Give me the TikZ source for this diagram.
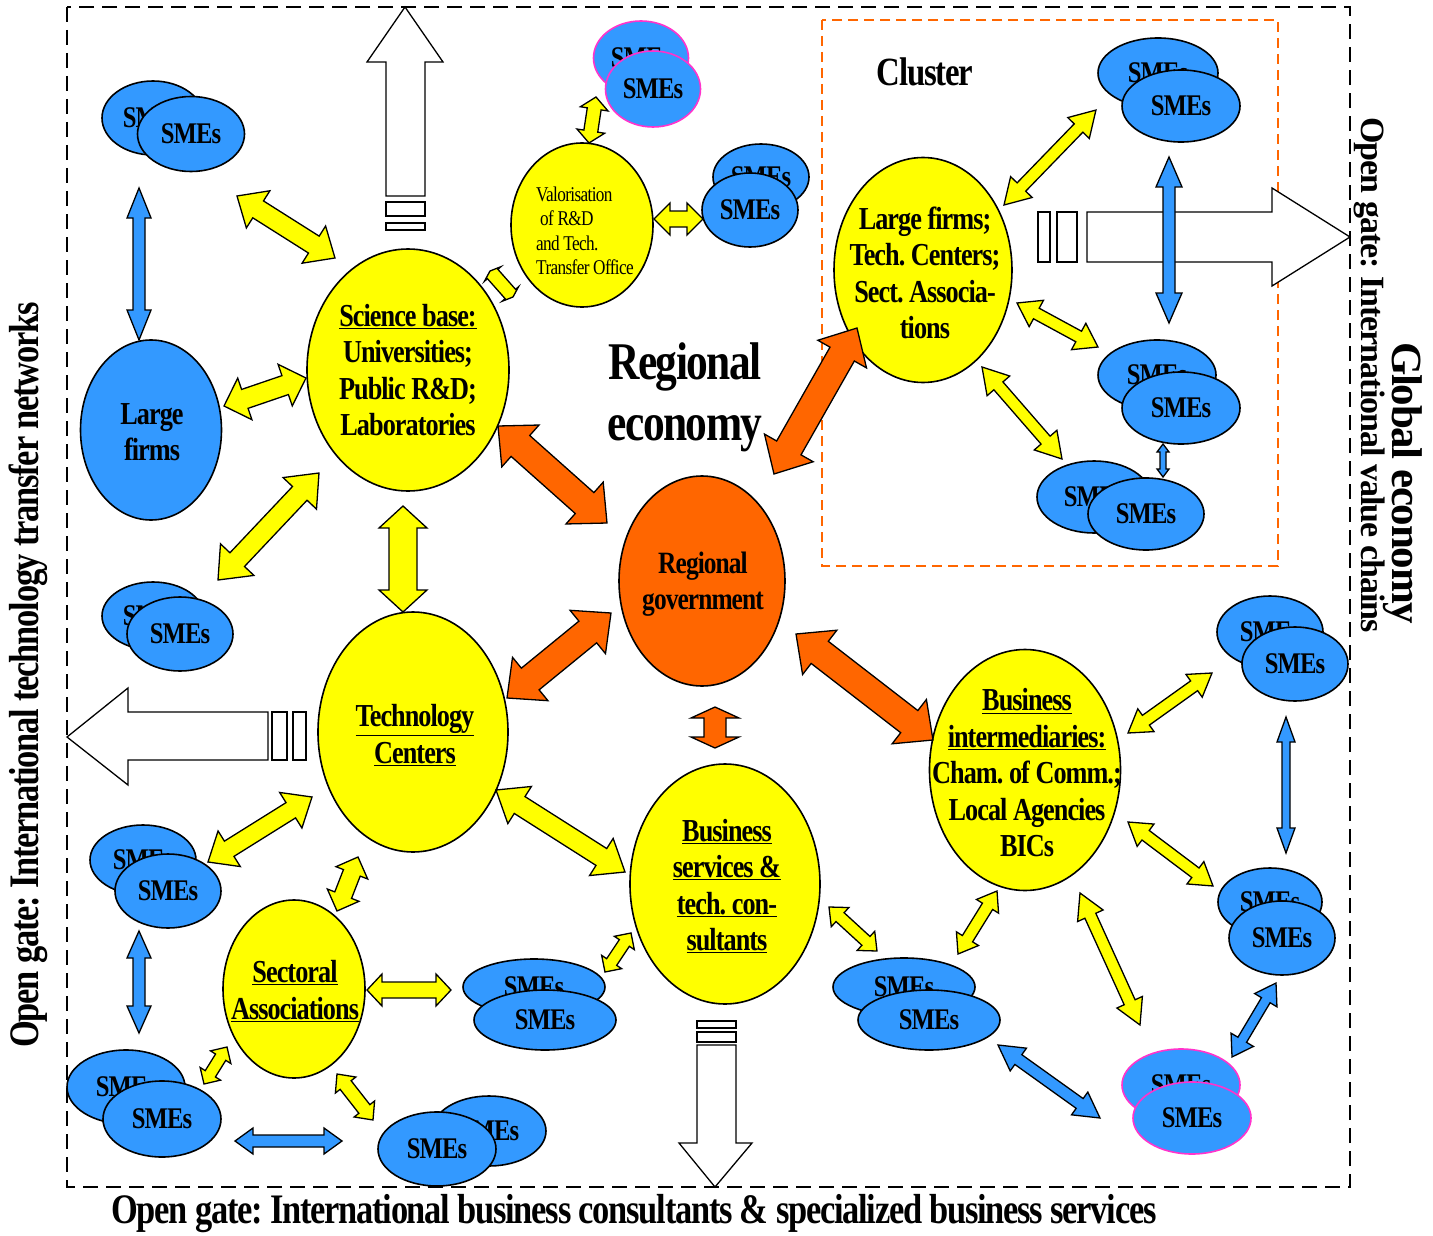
\documentclass[tikz,border=0pt]{standalone}
\usepackage{fontspec}
\setmainfont{Liberation Serif}
\newfontfamily\cf[FakeStretch=0.82,LetterSpace=-3]{Liberation Serif}
\newfontfamily\nf[LetterSpace=-3]{Liberation Serif}
\usetikzlibrary{shapes.geometric,calc}
\definecolor{yel}{HTML}{FFFF00}
\definecolor{smeb}{HTML}{3399FF}
\definecolor{org}{HTML}{FF6600}
\definecolor{pnk}{HTML}{FF33CC}
\newcommand\fs[2]{\fontsize{#1}{#2}\selectfont}
\frenchspacing
\tikzset{
  ell/.style={ellipse, draw=black, line width=1.6pt, inner sep=0pt},
  yelE/.style={ell, fill=yel},
  bluE/.style={ell, fill=smeb},
  orgE/.style={ell, fill=org},
  smeT/.style={font=\cf\bfseries\fs{30}{30}},
  lab/.style={align=center, inner sep=0pt, font=\cf\bfseries\fs{32}{36.5}},
  yA/.style={fill=yel, draw=black, line width=1.3pt},
  bA/.style={fill=smeb, draw=black, line width=1.3pt},
  oA/.style={fill=org, draw=black, line width=1.3pt},
  wA/.style={fill=white, draw=black, line width=1.3pt},
  frame/.style={draw=black, line width=2.5pt, dash pattern=on 15pt off 8pt},
  clus/.style={draw=org, line width=1.6pt, dash pattern=on 10pt off 6pt},
}
% double block arrow: style, tip A, tip B, shaft half width, head half width, head length
\newcommand\dar[6]{%
  \path let \p1=#2, \p2=#3 in
    \pgfextra{\pgfmathsetmacro\tmpa{atan2(\y2-\y1,\x2-\x1)}\global\let\darang\tmpa
              \pgfmathsetmacro\tmpb{veclen(\x2-\x1,\y2-\y1)}\global\let\darlen\tmpb
              \xdef\darx{\x1}\xdef\dary{\y1}};
  \pgfmathsetmacro\darm{\darlen-#6}%
  \draw[#1, shift={(\darx,\dary)}, rotate=\darang] (0pt,0pt) -- (#6pt,#5pt) -- (#6pt,#4pt)
    -- (\darm pt,#4pt) -- (\darm pt,#5pt) -- (\darlen pt,0pt) -- (\darm pt,-#5pt)
    -- (\darm pt,-#4pt) -- (#6pt,-#4pt) -- (#6pt,-#5pt) -- cycle;
}
% pair of SME ellipses: name, back pos, back w, back h, front pos, front w, front h, border
\newcommand\smes[8]{%
  \node[bluE, draw=#8, minimum width=#3, minimum height=#4, smeT] (#1b) at #2 {SMEs};
  \node[bluE, draw=#8, minimum width=#6, minimum height=#7, smeT] (#1) at #5 {SMEs};
}
\begin{document}
\begin{tikzpicture}[x=1pt,y=-1pt]
\useasboundingbox[fill=white] (0,0) rectangle (1433,1236);
% frames
\draw[frame] (67,7) rectangle (1350,1187);
\draw[clus] (822,20) rectangle (1278,566);
% open-gate arrows
\draw[wA] (405,7) -- (443,62) -- (425,62) -- (425,196) -- (386,196) -- (386,62) -- (367,62) -- cycle;
\draw[wA] (386,202) rectangle (425,216);
\draw[wA] (386,223) rectangle (425,230);
\draw[wA] (1350,237) -- (1272,286) -- (1272,262) -- (1087,262) -- (1087,212) -- (1272,212) -- (1272,188) -- cycle;
\draw[wA] (1057,212) rectangle (1077,262);
\draw[wA] (1038,212) rectangle (1050,262);
\draw[wA] (67,737) -- (128,688) -- (128,712) -- (268,712) -- (268,760) -- (128,760) -- (128,785) -- cycle;
\draw[wA] (272,712) rectangle (287,760);
\draw[wA] (293,712) rectangle (306,760);
\draw[wA] (715,1187) -- (679,1143) -- (697,1143) -- (697,1045) -- (736,1045) -- (736,1143) -- (752,1143) -- cycle;
\draw[wA] (697,1032) rectangle (736,1042);
\draw[wA] (697,1021) rectangle (736,1028);
% main ellipses
\node[yelE, minimum width=202, minimum height=242] (sci) at (408,370) {};
\node[yelE, minimum width=142, minimum height=164] (val) at (582,225) {};
\node[yelE, minimum width=178, minimum height=225] (clf) at (923,270) {};
\node[yelE, minimum width=190, minimum height=240] (tc) at (413,732) {};
\node[yelE, minimum width=142, minimum height=178] (sa) at (294,989) {};
\node[yelE, minimum width=190, minimum height=240] (bs) at (725,884) {};
\node[yelE, minimum width=191, minimum height=241] (bi) at (1025,770) {};
\node[orgE, minimum width=166, minimum height=210] (rg) at (702,581) {};
\node[bluE, minimum width=141, minimum height=180] (lf) at (151,430) {};
% labels
\node[lab] at (sci) {\underline{Science base:}\\Universities;\\Public R\&D;\\Laboratories};
\node[inner sep=0pt, align=left, anchor=west, font=\cf\fs{21}{24.5}] at (536,231) {Valorisation\\\hspace*{4pt}of R\&D\\and Tech.\\Transfer Office};
\node[lab] at (925,273) {Large firms;\\Tech. Centers;\\Sect. Associa-\\tions};
\node[lab] at (415,735) {\underline{Technology}\\\underline{Centers}};
\node[lab] at (295,991) {\underline{Sectoral}\\\underline{Associations}};
\node[lab] at (727,886) {\underline{Business}\\\underline{services \&}\\\underline{tech. con-}\\\underline{sultants}};
\node[lab] at (1027,773) {\underline{Business}\\\underline{intermediaries:}\\Cham. of Comm.;\\Local Agencies\\BICs};
\node[lab, font=\cf\bfseries\fs{31}{36}] at (703,584) {Regional\\government};
\node[lab] at (152,432) {Large\\firms};
% SMEs
\smes{a}{(153,118)}{102}{74}{(191,134)}{107}{75}{black}
\smes{b}{(641,58)}{95}{74}{(653,89)}{95}{76}{pnk}
\smes{c}{(761,177)}{96}{66}{(750,210)}{96}{74}{black}
\smes{d}{(1158,73)}{120}{70}{(1181,106)}{118}{72}{black}
\smes{e}{(1157,375)}{118}{70}{(1181,408)}{118}{72}{black}
\smes{f}{(1094,497)}{114}{72}{(1146,514)}{116}{72}{black}
\smes{g}{(153,616)}{102}{68}{(180,634)}{106}{74}{black}
\smes{h}{(143,860)}{106}{70}{(168,891)}{106}{74}{black}
\smes{i}{(126,1087)}{118}{74}{(162,1119)}{118}{76}{black}
\smes{j}{(489,1131)}{114}{70}{(437,1149)}{118}{74}{black}
\smes{k}{(534,987)}{142}{56}{(545,1020)}{142}{60}{black}
\smes{l}{(904,987)}{142}{58}{(929,1020)}{142}{60}{black}
\smes{m}{(1270,632)}{106}{72}{(1295,664)}{106}{74}{black}
\smes{n}{(1270,902)}{104}{68}{(1282,938)}{106}{74}{black}
\smes{o}{(1181,1085)}{118}{72}{(1192,1118)}{118}{72}{pnk}
% yellow arrows
\dar{yA}{(237,196)}{(335,258)}{10}{22}{25}
\dar{yA}{(224,406)}{(306,378)}{10}{22}{22}
\dar{yA}{(218,580)}{(319,473)}{10}{23}{28}
\dar{yA}{(403,506)}{(403,612)}{14}{24}{22}
\dar{yA}{(490,271)}{(513,297)}{7}{11}{4}
\dar{yA}{(596,97)}{(589,143)}{7}{14}{12}
\dar{yA}{(654,219)}{(703,219)}{8}{16}{16}
\dar{yA}{(1004,205)}{(1096,110)}{6}{15}{25}
\dar{yA}{(1017,303)}{(1098,347)}{6}{15}{22}
\dar{yA}{(982,367)}{(1062,459)}{6}{15}{25}
\dar{yA}{(208,862)}{(312,797)}{9}{21}{25}
\dar{yA}{(496,790)}{(625,872)}{10}{22}{28}
\dar{yA}{(358,857)}{(337,911)}{9}{17}{17}
\dar{yA}{(367,990)}{(451,990)}{8}{16}{15}
\dar{yA}{(227,1047)}{(204,1084)}{6}{12}{12}
\dar{yA}{(337,1074)}{(373,1120)}{7}{13}{14}
\dar{yA}{(631,933)}{(605,972)}{6}{12}{12}
\dar{yA}{(829,907)}{(877,951)}{6}{13}{15}
\dar{yA}{(997,891)}{(958,954)}{6}{13}{18}
\dar{yA}{(1128,733)}{(1212,673)}{6}{14}{22}
\dar{yA}{(1128,822)}{(1213,886)}{6}{14}{22}
\dar{yA}{(1080,893)}{(1140,1025)}{6}{14}{25}
% orange arrows
\dar{oA}{(498,426)}{(607,523)}{14}{28}{30}
\dar{oA}{(774,474)}{(857,328)}{14}{28}{30}
\dar{oA}{(611,613)}{(507,698)}{14}{28}{30}
\dar{oA}{(796,634)}{(933,740)}{14}{28}{30}
\dar{oA}{(715,707)}{(715,748)}{11}{24}{11}
% blue arrows
\dar{bA}{(139,188)}{(139,340)}{6}{12}{30}
\dar{bA}{(1169,157)}{(1169,323)}{6}{13}{30}
\dar{bA}{(1163,444)}{(1163,477)}{3}{6}{8}
\dar{bA}{(139,931)}{(139,1033)}{6}{12}{27}
\dar{bA}{(235,1141)}{(342,1141)}{6}{13}{18}
\dar{bA}{(1286,717)}{(1286,853)}{4}{9}{25}
\dar{bA}{(998,1045)}{(1100,1118)}{6}{14}{25}
\dar{bA}{(1276,983)}{(1232,1057)}{5}{13}{20}
% titles
\node[lab, font=\cf\bfseries\fs{53}{61}] (re) at (685,397) {Regional\\economy};
\node[lab, font=\cf\bfseries\fs{40}{40}] (cl) at (925,72) {Cluster};
\node[inner sep=0pt, rotate=90, font=\cf\bfseries\fs{42}{42}] (lg) at (28,675) {Open gate: International technology transfer networks};
\node[inner sep=0pt, font=\cf\bfseries\fs{42}{42}] (bg) at (634,1214) {Open gate: International business consultants \& specialized business services};
\node[inner sep=0pt, rotate=-90, anchor=base, font=\nf\bfseries\fs{43}{43}] (ge) at (1392,483) {Global economy};
\node[inner sep=0pt, rotate=-90, anchor=base, font=\nf\bfseries\fs{34}{34}] (vc) at (1361,375) {Open gate: International value chains};
\end{tikzpicture}
\end{document}
